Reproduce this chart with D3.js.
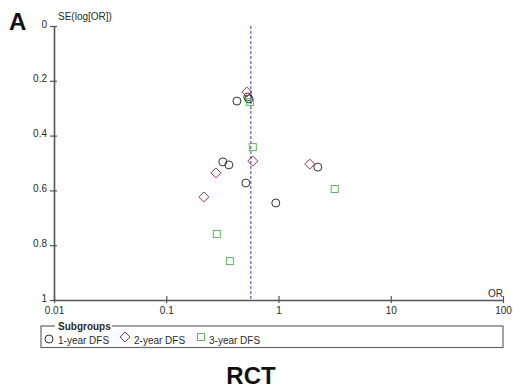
<!DOCTYPE html>
<html>
<head>
<meta charset="utf-8">
<script src="https://cdn.jsdelivr.net/npm/d3@7"></script>
<style>
  html, body { margin: 0; padding: 0; background: #fff; }
  svg { display: block; font-family: "Liberation Sans", Arial, sans-serif; }
</style>
</head>
<body>
<svg id="chart" width="513" height="388"></svg>
<script>
// Funnel plot: odds ratio (log scale) vs. standard error of log OR
const seriesNames = ["1-year DFS", "2-year DFS", "3-year DFS"];

const oneYearOR = [0.426, 0.533, 0.544, 0.319, 0.361, 0.512, 2.24, 0.946];
const oneYearSE = [0.274, 0.259, 0.266, 0.496, 0.507, 0.573, 0.515, 0.646];

const twoYearOR = [0.522, 0.59, 1.90, 0.277, 0.216];
const twoYearSE = [0.241, 0.493, 0.504, 0.536, 0.624];

const threeYearOR = [0.556, 0.59, 3.17, 0.282, 0.369];
const threeYearSE = [0.277, 0.442, 0.595, 0.759, 0.858];

const pooledOR = 0.567;

const xTicks = [0.01, 0.1, 1, 10, 100];
const xTickLabels = ["0.01", "0.1", "1", "10", "100"];
const yTicks = [0, 0.2, 0.4, 0.6, 0.8, 1];
const yTickLabels = ["0", "0.2", "0.4", "0.6", "0.8", "1"];

const svg = d3.select("#chart");
const axisColor = "#555";
const textColor = "#2a2a2a";
const fontFam = "Liberation Sans, Arial, sans-serif";

const x = d3.scaleLog().domain([0.01, 100]).range([54, 503]);
const y = d3.scaleLinear().domain([0, 1]).range([26, 300]);

// panel letter
svg.append("text").attr("x", 9).attr("y", 30)
  .attr("font-size", 24).attr("font-weight", "bold").attr("fill", "#111").text("A");

// y axis
const yAxis = svg.append("g").attr("transform", `translate(${x(0.01)},0)`)
  .call(d3.axisLeft(y).tickValues(yTicks).tickFormat((d, i) => yTickLabels[i])
    .tickSizeInner(4).tickSizeOuter(0).tickPadding(3));
yAxis.selectAll(".tick line").attr("x1", -4).attr("x2", 3);
yAxis.select(".domain").attr("stroke", axisColor).attr("stroke-width", 1.6);
yAxis.selectAll(".tick line").attr("stroke", axisColor).attr("stroke-width", 1.2);
yAxis.selectAll(".tick text").attr("font-size", 10).attr("fill", textColor)
  .attr("font-family", fontFam).attr("dy", "0.1em");

// x axis
const xAxis = svg.append("g").attr("transform", `translate(0,${y(1)})`)
  .call(d3.axisBottom(x).tickValues(xTicks).tickFormat((d, i) => xTickLabels[i])
    .tickSizeInner(3).tickSizeOuter(0).tickPadding(4));
xAxis.selectAll(".tick line").attr("y1", -4).attr("y2", 3);
xAxis.select(".domain").attr("stroke", axisColor).attr("stroke-width", 1.6);
xAxis.selectAll(".tick line").attr("stroke", axisColor).attr("stroke-width", 1.2);
xAxis.selectAll(".tick text").attr("font-size", 10).attr("fill", textColor)
  .attr("font-family", fontFam);

// axis titles
svg.append("text").attr("x", 58).attr("y", 20).attr("font-size", 10)
  .attr("fill", textColor).text("SE(log[OR])");
svg.append("text").attr("x", 488).attr("y", 297).attr("font-size", 10)
  .attr("fill", textColor).text("OR");

// pooled estimate reference line
svg.append("line")
  .attr("x1", x(pooledOR)).attr("x2", x(pooledOR))
  .attr("y1", y(0)).attr("y2", y(1))
  .attr("stroke", "#4a4ab8").attr("stroke-width", 1.1)
  .attr("stroke-dasharray", "3,2");

const symbols = {
  circle: (g, cx, cy) => g.append("circle").attr("cx", cx).attr("cy", cy).attr("r", 4)
    .attr("fill", "none").attr("stroke", "#333").attr("stroke-width", 1),
  diamond: (g, cx, cy) => g.append("path")
    .attr("d", `M${cx},${cy - 5}L${cx + 5},${cy}L${cx},${cy + 5}L${cx - 5},${cy}Z`)
    .attr("fill", "none").attr("stroke", "#a0323f").attr("stroke-width", 1),
  square: (g, cx, cy) => g.append("rect").attr("x", cx - 3.5).attr("y", cy - 3.5)
    .attr("width", 7).attr("height", 7)
    .attr("fill", "none").attr("stroke", "#5cb85c").attr("stroke-width", 1)
};

const series = [
  { or: oneYearOR, se: oneYearSE, sym: "circle" },
  { or: twoYearOR, se: twoYearSE, sym: "diamond" },
  { or: threeYearOR, se: threeYearSE, sym: "square" }
];

const pts = svg.append("g");
series.forEach(s => {
  s.or.forEach((v, i) => symbols[s.sym](pts, x(v), y(s.se[i])));
});

// legend
const lg = svg.append("g");
lg.append("rect").attr("x", 41).attr("y", 326).attr("width", 462).attr("height", 21.5)
  .attr("fill", "none").attr("stroke", "#666").attr("stroke-width", 1.2);
lg.append("rect").attr("x", 55).attr("y", 321).attr("width", 57).attr("height", 9).attr("fill", "#fff");
lg.append("text").attr("x", 58).attr("y", 330).attr("font-size", 10).attr("font-weight", "bold")
  .attr("fill", textColor).text("Subgroups");

const legendItems = [
  { sym: "circle", sx: 49, sy: 339, tx: 58 },
  { sym: "diamond", sx: 125, sy: 337, tx: 134 },
  { sym: "square", sx: 201, sy: 337, tx: 209 }
];
legendItems.forEach((it, i) => {
  symbols[it.sym](lg, it.sx, it.sy);
  lg.append("text").attr("x", it.tx).attr("y", 343.5).attr("font-size", 10)
    .attr("fill", textColor).text(seriesNames[i]);
});

// caption
svg.append("text").attr("x", 251).attr("y", 384).attr("text-anchor", "middle")
  .attr("font-size", 24).attr("font-weight", "bold").attr("fill", "#111").text("RCT");
</script>
</body>
</html>
